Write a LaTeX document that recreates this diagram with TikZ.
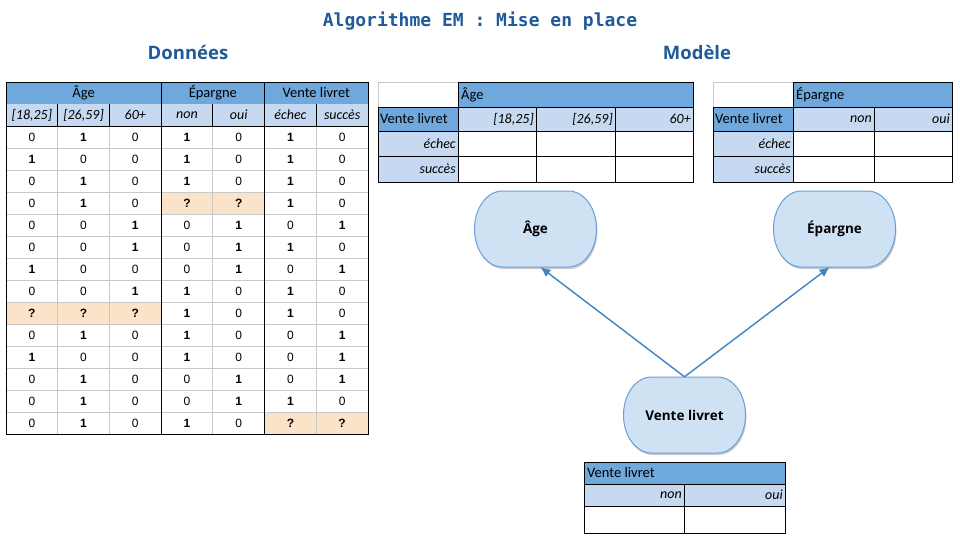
\documentclass[tikz,border=0pt]{standalone}
\usepackage{fontspec}
\setmainfont{Liberation Sans}
\newfontfamily\carl{Carlito}
\newfontfamily\osans{Open Sans}
\newfontfamily\dmono{DejaVu Sans Mono}
\usetikzlibrary{arrows.meta,shadows,backgrounds}
\definecolor{titleblue}{HTML}{1F5A99}
\definecolor{hdrblue}{HTML}{6FA8DC}
\definecolor{subblue}{HTML}{C6D9F0}
\definecolor{nodefill}{HTML}{CFE2F3}
\definecolor{nodeborder}{HTML}{6A9FD8}
\definecolor{arrowblue}{HTML}{3D85C6}
\definecolor{orangecell}{HTML}{FBE3CA}
\definecolor{gridgray}{HTML}{C8C8C8}
\tikzset{
  num/.style={font=\fontsize{12}{14}\selectfont, inner sep=0pt},
  hd/.style={font=\carl\fontsize{14.5}{16}\selectfont, inner sep=0pt},
  sh/.style={font=\carl\itshape\fontsize{14}{16}\selectfont, inner sep=0pt},
  heading/.style={font=\osans\bfseries\fontsize{18.5}{20}\selectfont, text=titleblue, inner sep=0pt},
  blk/.style={draw=black, line width=0.9pt},
  gry/.style={draw=gridgray, line width=0.9pt},
  varnode/.style={rectangle, minimum width=122pt, minimum height=76pt, inner sep=0pt,
    font=\osans\bfseries\fontsize{13.5}{15}\selectfont},
  varshape/.style={draw=nodeborder, fill=nodefill, line width=1pt,
    drop shadow={shadow xshift=1pt, shadow yshift=-2pt, opacity=0.2, fill=black}},
  edge/.style={draw=arrowblue, line width=1.4pt, -{Latex[length=10pt,width=9pt]}}
}
\begin{document}
\begin{tikzpicture}[x=1pt,y=-1pt]
\useasboundingbox (0,0) rectangle (960,540);

% Title and headings
\node[font=\dmono\bfseries\fontsize{18}{20}\selectfont, text=titleblue, inner sep=0pt] (title) at (480,21) {Algorithme EM : Mise en place};
\node[heading] (hdata) at (188,53) {Données};
\node[heading] (hmodel) at (697,53) {Modèle};

% ================= Left data table =================
\def\cw{51.714}
\fill[hdrblue] (6,82) rectangle (368,104);
\fill[subblue] (6,104) rectangle (368,126);
\fill[orangecell] ({6+3*\cw},{126+3*22}) rectangle ({6+5*\cw},{126+4*22});
\fill[orangecell] (6,{126+8*22}) rectangle ({6+3*\cw},{126+9*22});
\fill[orangecell] ({6+5*\cw},{126+13*22}) rectangle (368,{126+14*22});
\foreach \k in {1,...,13} \draw[gry] (6,{126+\k*22}) -- (368,{126+\k*22});
\foreach \i in {1,2,4,6} \draw[gry] ({6+\i*\cw},126) -- ({6+\i*\cw},434);
\foreach \i in {1,2,4,6} \draw[blk] ({6+\i*\cw},104) -- ({6+\i*\cw},126);
\foreach \i in {3,5} \draw[blk] ({6+\i*\cw},82) -- ({6+\i*\cw},434);
\draw[blk] (6,126) -- (368,126);
\draw[blk] (6,82) rectangle (368,434);
\node[hd] (lhAge) at ({6+1.5*\cw},93) {Âge};
\node[hd] (lhEp) at ({6+4*\cw},93) {Épargne};
\node[hd] (lhVl) at ({6+6*\cw},93) {Vente livret};
\foreach \t [count=\i from 0] in {{[18,25]},{[26,59]},60+,non,oui,échec,succès}
  \node[sh] (ls\i) at ({6+(\i+0.5)*\cw},115) {\t};
\foreach \row [count=\k from 0] in {
 {0,\textbf{1},0,\textbf{1},0,\textbf{1},0},
 {\textbf{1},0,0,\textbf{1},0,\textbf{1},0},
 {0,\textbf{1},0,\textbf{1},0,\textbf{1},0},
 {0,\textbf{1},0,\textbf{?},\textbf{?},\textbf{1},0},
 {0,0,\textbf{1},0,\textbf{1},0,\textbf{1}},
 {0,0,\textbf{1},0,\textbf{1},\textbf{1},0},
 {\textbf{1},0,0,0,\textbf{1},0,\textbf{1}},
 {0,0,\textbf{1},\textbf{1},0,\textbf{1},0},
 {\textbf{?},\textbf{?},\textbf{?},\textbf{1},0,\textbf{1},0},
 {0,\textbf{1},0,\textbf{1},0,0,\textbf{1}},
 {\textbf{1},0,0,\textbf{1},0,0,\textbf{1}},
 {0,\textbf{1},0,0,\textbf{1},0,\textbf{1}},
 {0,\textbf{1},0,0,\textbf{1},\textbf{1},0},
 {0,\textbf{1},0,\textbf{1},0,\textbf{?},\textbf{?}}}
{
  \foreach \v [count=\i from 0] in \row
    \node[num] (d\k-\i) at ({6+(\i+0.5)*\cw},{126+\k*22+11}) {\v};
}

% ================= Middle table =================
\fill[hdrblue] (458,82) rectangle (693,107);
\fill[hdrblue] (378,107) rectangle (458,131);
\fill[subblue] (458,107) rectangle (693,131);
\fill[subblue] (378,131) rectangle (458,182);
\draw[gry] (378,107) -- (378,82) -- (458,82);
\draw[blk] (458,82) -- (693,82) -- (693,182) -- (378,182) -- (378,107) -- (693,107);
\draw[blk] (458,82) -- (458,182);
\foreach \x in {536,615} \draw[blk] (\x,107) -- (\x,182);
\foreach \y in {131,156} \draw[blk] (378,\y) -- (693,\y);
\node[hd, anchor=west] (mAge) at (461,95) {Âge};
\node[hd, anchor=west] (mVl) at (380,119) {Vente livret};
\node[sh, anchor=east] (m1) at (534,119) {[18,25]};
\node[sh, anchor=east] (m2) at (613,119) {[26,59]};
\node[sh, anchor=east] (m3) at (691,119) {60+};
\node[sh, anchor=east] (m4) at (456,143.5) {échec};
\node[sh, anchor=east] (m5) at (456,169) {succès};

% ================= Right table =================
\fill[hdrblue] (793,82) rectangle (952,107);
\fill[hdrblue] (713,107) rectangle (793,131);
\fill[subblue] (793,107) rectangle (952,131);
\fill[subblue] (713,131) rectangle (793,182);
\draw[gry] (713,107) -- (713,82) -- (793,82);
\draw[blk] (793,82) -- (952,82) -- (952,182) -- (713,182) -- (713,107) -- (952,107);
\draw[blk] (793,82) -- (793,182);
\draw[blk] (874,107) -- (874,182);
\foreach \y in {131,156} \draw[blk] (713,\y) -- (952,\y);
\node[hd, anchor=west] (rEp) at (796,95) {Épargne};
\node[hd, anchor=west] (rVl) at (715,119) {Vente livret};
\node[sh, anchor=east] (r1) at (872,119) {non};
\node[sh, anchor=east] (r2) at (950,119) {oui};
\node[sh, anchor=east] (r3) at (791,143.5) {échec};
\node[sh, anchor=east] (r4) at (791,169) {succès};

% ================= Bottom table =================
\fill[hdrblue] (584,462) rectangle (785,484);
\fill[subblue] (584,484) rectangle (785,506);
\draw[blk] (584,462) rectangle (785,533);
\draw[blk] (584,484) -- (785,484);
\draw[blk] (584,506) -- (785,506);
\draw[blk] (684,484) -- (684,533);
\node[hd, anchor=west] (bVl) at (587,473) {Vente livret};
\node[sh, anchor=east] (b1) at (682,495) {non};
\node[sh, anchor=east] (b2) at (783,495) {oui};

% ================= Model graph =================
\node[varnode] (age) at (535.5,229) {Âge};
\node[varnode] (ep) at (834.5,229) {Épargne};
\node[varnode] (vl) at (684.5,415) {Vente livret};
\begin{scope}[on background layer]
  \fill[white] (0,0) rectangle (960,540);
  \foreach \n in {age,ep,vl}
    \path[varshape, shift={(\n.center)}] (-33,-38) -- (33,-38)
      .. controls (48.5,-38) and (61,-21) .. (61,0)
      .. controls (61,21) and (48.5,38) .. (33,38)
      -- (-33,38)
      .. controls (-48.5,38) and (-61,21) .. (-61,0)
      .. controls (-61,-21) and (-48.5,-38) .. (-33,-38) -- cycle;
\end{scope}
\draw[edge] (vl.north) -- ([xshift=5pt]age.south);
\draw[edge] (vl.north) -- ([xshift=-5pt]ep.south);
\end{tikzpicture}
\end{document}
